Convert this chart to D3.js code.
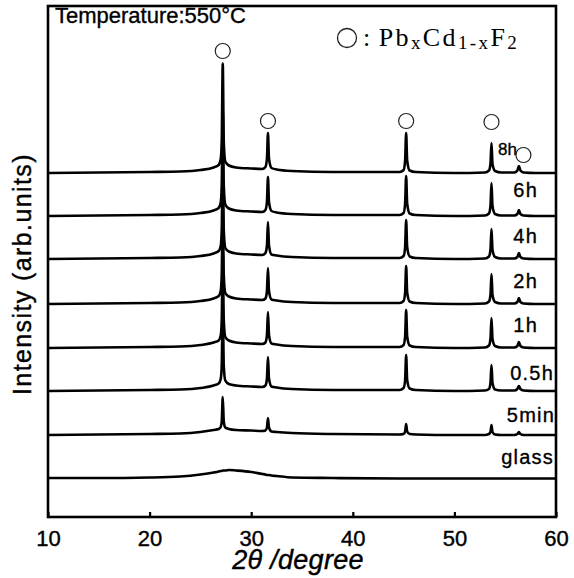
<!DOCTYPE html>
<html>
<head>
<meta charset="utf-8">
<script src="https://cdn.jsdelivr.net/npm/d3@7"></script>
<style>
  html, body { margin: 0; padding: 0; background: #fff; }
  svg { display: block; }
</style>
</head>
<body>
<script>
// 2θ sampling points (degrees) shared by every pattern
const twoTheta = [10, 15, 20, 23, 25, 26.3, 26.8, 27.0, 27.1, 27.2, 27.3, 27.45, 27.8, 28.5, 30,
  31.1, 31.4, 31.55, 31.65, 31.75, 32.0, 32.5, 34, 38,
  44.6, 45.0, 45.15, 45.25, 45.35, 45.6, 46.2, 50,
  53.0, 53.4, 53.55, 53.65, 53.75, 54.0, 54.6,
  55.9, 56.2, 56.35, 56.5, 56.8, 58, 60];

// Sample names (heat-treatment time at 550 °C), top to bottom
const samples = ["8h", "6h", "4h", "2h", "1h", "0.5h", "5min", "glass"];

// Vertical offset of each pattern (arb. units)
const offsets = [344, 301, 258, 213, 169, 126, 82, 39];

// Intensity above each offset (arb. units) at the 2θ points
const int8h   = [0, 0.5, 1, 1.5, 3, 5.5, 8, 14, 31.5, 109.5, 31.5, 11.5, 7.5, 5.5, 4.5, 4, 6, 14.5, 40, 14.5, 5, 3.5, 2, 1, 1, 3, 12.5, 40, 12.5, 2.5, 1, 0, 0.5, 2.5, 9, 30, 9, 2, 0.5, 0.5, 2.5, 7, 2.5, 0.5, 0, 0];
const int6h   = [0, 0.5, 1, 1.5, 3, 5.5, 8, 13.5, 30.5, 105, 30.5, 11.5, 7.5, 5.5, 4.5, 4, 6, 14, 39, 14, 5, 3.5, 2, 1, 1, 3, 12.5, 40, 12.5, 2.5, 1, 0, 0.5, 2.5, 10, 33, 10, 2, 0.5, 0.5, 2, 6, 2, 0.5, 0, 0];
const int4h   = [0, 0.5, 1, 1.5, 3, 5.5, 8, 13, 29, 100, 29, 11, 7.5, 5.5, 4.5, 4, 6, 13.5, 37, 13.5, 4.5, 3.5, 2, 1, 1, 3, 12, 39, 12, 2.5, 1, 0, 0.5, 2.5, 9, 30, 9, 2, 0.5, 0.5, 2, 6, 2, 0.5, 0, 0];
const int2h   = [0, 0.5, 1, 1.5, 3, 5.5, 8, 13, 29, 100, 29, 11, 7.5, 5.5, 4.5, 4, 5.5, 13, 36, 13, 4.5, 3.5, 2, 1, 1, 3, 11.5, 38, 11.5, 2.5, 1, 0, 0.5, 2.5, 9, 30, 9, 2, 0.5, 0.5, 2, 6, 2, 0.5, 0, 0];
const int1h   = [0, 0.5, 1, 1.5, 3, 5.5, 7.5, 12.5, 28, 95, 28, 11, 7.5, 5.5, 4.5, 4, 5.5, 13, 36, 13, 4.5, 3.5, 2, 1, 1, 3, 11.5, 38, 11.5, 2.5, 1, 0, 0.5, 2.5, 9, 30, 9, 2, 0.5, 0.5, 2, 6, 2, 0.5, 0, 0];
const int05h  = [0, 0.5, 1, 1.5, 3, 5.5, 7.5, 12, 25.5, 85, 25.5, 10.5, 7, 5.5, 4.5, 4, 5.5, 12.5, 34, 12.5, 4.5, 3.5, 2, 1, 1, 3, 11, 36, 11, 2.5, 1, 0, 0.5, 2, 8, 26, 8, 1.5, 0.5, 0.5, 2, 5, 2, 0.5, 0, 0];
const int5min = [0, 0.5, 1, 1.5, 3, 5, 6, 8, 13.5, 38, 13.5, 7.5, 6, 5, 4.5, 4, 4.5, 7.5, 17, 7.5, 3.5, 3, 2, 1, 0.5, 1, 3.5, 11, 3.5, 1, 0.5, 0, 0, 1, 3, 10, 3, 0.5, 0, 0, 1, 3, 1, 0, 0, 0];
const intGlass = [0, 0, 0.5, 1.5, 3.5, 5.5, 6.5, 7, 7, 7.5, 7.5, 7.5, 8, 7.5, 6, 4, 3.5, 3, 3, 3, 2.5, 2, 0.5, 0, -0.5, -0.5, -0.5, -0.5, -0.5, -0.5, -0.5, -0.5, -0.5, -0.5, -0.5, -0.5, -0.5, -0.5, -0.5, -0.5, -0.5, -0.5, -0.5, -0.5, -0.5, -0.5];

const intensities = [int8h, int6h, int4h, int2h, int1h, int05h, int5min, intGlass];

// PbxCd1-xF2 reflections marked with circles (2θ, degrees)
const peakPositions = [27.2, 31.65, 45.25, 53.65, 56.35];

// Axis ticks
const xTicks = [10, 20, 30, 40, 50, 60];

// ---------- layout ----------
const W = 574, H = 578;
const frame = { left: 48, right: 556, top: 6, bottom: 517 };
const markerLift = [12.5, 12, 12, 21, 11];                 // px from peak top to circle centre
const markerShift = [0, 0, 0, 0, 4.5];                     // small sideways nudge (px)
const labelEnd = [517, 538, 538, 538, 538, 554, 555, 554]; // right end of sample labels (px)
const labelRise = [18, 19, 16, 16, 16, 11, 13, 14];        // label baseline above trace (px)

const svg = d3.select("body").append("svg")
  .attr("width", W).attr("height", H)
  .attr("font-family", "'Liberation Sans', Arial, sans-serif");

const x = d3.scaleLinear().domain([10, 60]).range([frame.left, frame.right]);
const y = d3.scaleLinear().domain([0, 511]).range([frame.bottom, frame.top]);

const series = samples.map((name, i) => ({
  name,
  offset: offsets[i],
  points: twoTheta.map((t, j) => [t, intensities[i][j]])
}));

const line = d3.line()
  .x(d => x(d[0]))
  .y(d => y(d[1]))
  .curve(d3.curveMonotoneX);

// patterns
svg.append("g").selectAll("path")
  .data(series)
  .join("path")
  .attr("d", s => line(s.points.map(p => [p[0], p[1] + s.offset])))
  .attr("fill", "none")
  .attr("stroke", "#000")
  .attr("stroke-width", 2.6)
  .attr("stroke-linejoin", "round");

// sample labels
svg.append("g").selectAll("text")
  .data(series)
  .join("text")
  .attr("x", (s, i) => labelEnd[i])
  .attr("y", (s, i) => y(s.offset) - labelRise[i])
  .attr("text-anchor", "end")
  .attr("font-size", (s, i) => i === 0 ? 17 : 20)
  .attr("letter-spacing", (s, i) => i === 0 ? 0 : 1.2)
  .attr("stroke", "#000").attr("stroke-width", 0.35)
  .text(s => s.name);

// reflection markers above the 8h pattern
const topSeries = series[0];
svg.append("g").selectAll("circle")
  .data(peakPositions)
  .join("circle")
  .attr("cx", (p, i) => x(p) + markerShift[i])
  .attr("cy", (p, i) => y(topSeries.offset + topSeries.points[twoTheta.indexOf(p)][1]) - markerLift[i])
  .attr("r", 7.5)
  .attr("fill", "none")
  .attr("stroke", "#222")
  .attr("stroke-width", 1.2);

// frame
svg.append("rect")
  .attr("x", frame.left).attr("y", frame.top)
  .attr("width", frame.right - frame.left).attr("height", frame.bottom - frame.top)
  .attr("fill", "none").attr("stroke", "#000").attr("stroke-width", 2.6);

// x axis (ticks pointing inwards)
const xAxis = svg.append("g")
  .attr("transform", `translate(0,${frame.bottom})`)
  .call(d3.axisBottom(x).tickValues(xTicks).tickSize(-5).tickPadding(13).tickFormat(d3.format("d")));
xAxis.select(".domain").remove();
xAxis.selectAll(".tick line").attr("stroke", "#000").attr("stroke-width", 2.2);
xAxis.selectAll(".tick text")
  .attr("font-size", 22)
  .attr("font-family", "'Liberation Sans', Arial, sans-serif")
  .attr("fill", "#000")
  .attr("stroke", "#000").attr("stroke-width", 0.4);

// axis titles
svg.append("text")
  .attr("x", 298).attr("y", 569)
  .attr("text-anchor", "middle")
  .attr("font-size", 27)
  .attr("font-style", "italic")
  .attr("letter-spacing", 0.3)
  .attr("stroke", "#000").attr("stroke-width", 0.4)
  .text("2θ /degree");

svg.append("text")
  .attr("transform", "translate(31,274) rotate(-90)")
  .attr("text-anchor", "middle")
  .attr("font-size", 25)
  .attr("letter-spacing", 1.4)
  .attr("stroke", "#000").attr("stroke-width", 0.4)
  .text("Intensity (arb.units)");

// annotation
svg.append("text")
  .attr("x", 55).attr("y", 23)
  .attr("font-size", 22)
  .attr("stroke", "#000").attr("stroke-width", 0.35)
  .text("Temperature:550°C");

// legend
svg.append("circle")
  .attr("cx", 347).attr("cy", 38).attr("r", 9.5)
  .attr("fill", "none").attr("stroke", "#222").attr("stroke-width", 1.3);

const leg = svg.append("text")
  .attr("x", 363).attr("y", 46)
  .attr("font-family", "'Liberation Serif', 'Times New Roman', serif")
  .attr("font-size", 26)
  .attr("letter-spacing", 2.4);
leg.append("tspan").text(":");
leg.append("tspan").attr("dx", 6).text("Pb");
leg.append("tspan").attr("font-size", 19).attr("dy", 3).text("x");
leg.append("tspan").attr("dy", -3).text("Cd");
leg.append("tspan").attr("font-size", 19).attr("dy", 3).text("1-x");
leg.append("tspan").attr("dy", -3).text("F");
leg.append("tspan").attr("font-size", 19).attr("dy", 3).text("2");
</script>
</body>
</html>
